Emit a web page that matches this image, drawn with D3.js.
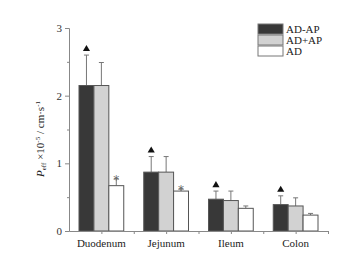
<!DOCTYPE html>
<html>
<head>
<meta charset="utf-8">
<script src="https://cdn.jsdelivr.net/npm/d3@7"></script>
<style>
  body { margin: 0; background: #fff; }
  text { font-family: "Liberation Serif", "DejaVu Serif", serif; fill: #222; }
</style>
</head>
<body>
<div id="chart"></div>
<script>
// data
let segments = ["Duodenum", "Jejunum", "Ileum", "Colon"];
let groups = ["AD-AP", "AD+AP", "AD"];
let meanADminusAP = [2.15, 0.87, 0.47, 0.39];
let sdADminusAP   = [0.45, 0.23, 0.12, 0.13];
let meanADplusAP  = [2.15, 0.87, 0.45, 0.37];
let sdADplusAP    = [0.34, 0.23, 0.14, 0.12];
let meanAD        = [0.67, 0.59, 0.335, 0.235];
let sdAD          = [0.10, 0.03, 0.035, 0.025];
let triangleOn = ["Duodenum", "Jejunum", "Ileum", "Colon"];   // marks on AD-AP
let starOn = ["Duodenum", "Jejunum"];                           // marks on AD
let yTicks = [0, 1, 2, 3];

let fills = {"AD-AP": "#383838", "AD+AP": "#d2d2d2", "AD": "#ffffff"};

let W = 360, H = 253;
let margin = {top: 28, right: 32, bottom: 22, left: 69};
let width = W - margin.left - margin.right;
let height = H - margin.top - margin.bottom;

let svg = d3.select("#chart").append("svg")
    .attr("width", W)
    .attr("height", H);

let g = svg.append("g")
    .attr("transform", "translate(" + margin.left + "," + margin.top + ")");

// scales
let x = d3.scaleBand().domain(segments).range([0, width]).paddingInner(0).paddingOuter(0);
let xInner = d3.scaleBand().domain(groups).range([10, x.bandwidth() - 10]);
let y = d3.scaleLinear().domain([0, 3]).range([height, 0]);

// build rows
let rows = [];
segments.forEach((s, i) => {
    rows.push({seg: s, grp: "AD-AP", mean: meanADminusAP[i], sd: sdADminusAP[i]});
    rows.push({seg: s, grp: "AD+AP", mean: meanADplusAP[i], sd: sdADplusAP[i]});
    rows.push({seg: s, grp: "AD", mean: meanAD[i], sd: sdAD[i]});
});
let cx = d => x(d.seg) + xInner(d.grp) + xInner.bandwidth() / 2;

// error bars (upper only)
let err = g.append("g").attr("class", "err");
err.selectAll("line.v").data(rows).enter().append("line")
    .attr("x1", cx).attr("x2", cx)
    .attr("y1", d => y(d.mean))
    .attr("y2", d => y(d.mean + d.sd))
    .attr("stroke", "#777")
    .attr("stroke-width", 1);
err.selectAll("line.cap").data(rows).enter().append("line")
    .attr("x1", d => cx(d) - 2.5)
    .attr("x2", d => cx(d) + 2.5)
    .attr("y1", d => y(d.mean + d.sd))
    .attr("y2", d => y(d.mean + d.sd))
    .attr("stroke", "#777")
    .attr("stroke-width", 1);

// bars
g.append("g").selectAll("rect").data(rows).enter().append("rect")
    .attr("x", d => x(d.seg) + xInner(d.grp))
    .attr("y", d => y(d.mean))
    .attr("width", xInner.bandwidth())
    .attr("height", d => y(0) - y(d.mean))
    .attr("fill", d => fills[d.grp])
    .attr("stroke", "#555")
    .attr("stroke-width", 1);

// significance marks
let tri = d3.symbol().type(d3.symbolTriangle).size(22);
g.append("g").selectAll("path").data(rows.filter(d => d.grp === "AD-AP" && triangleOn.includes(d.seg)))
    .enter().append("path")
    .attr("d", tri)
    .attr("transform", d => "translate(" + cx(d) + "," + (y(d.mean + d.sd) - 6) + ")")
    .attr("fill", "#111");

g.append("g").selectAll("text").data(rows.filter(d => d.grp === "AD" && starOn.includes(d.seg)))
    .enter().append("text")
    .attr("x", cx)
    .attr("y", d => y(d.mean + d.sd) + 5)
    .attr("text-anchor", "middle")
    .style("font-family", "DejaVu Sans, sans-serif")
    .style("font-size", "12px")
    .style("fill", "#666")
    .text("*");

// axes
let yAxis = g.append("g")
    .call(d3.axisLeft(y).tickValues(yTicks).tickFormat(d3.format("d")).tickSize(4));
let yMinor = g.append("g")
    .call(d3.axisLeft(y).tickValues([0.5, 1.5, 2.5]).tickFormat("").tickSize(2));
yMinor.select(".domain").remove();

let xTickVals = [];
segments.forEach(s => { xTickVals.push(x(s) + x.bandwidth() / 2); xTickVals.push(x(s) + x.bandwidth()); });
let xLin = d3.scaleLinear().domain([0, width]).range([0, width]);
let xAxis = g.append("g")
    .attr("transform", "translate(0," + height + ")")
    .call(d3.axisBottom(xLin).tickValues(xTickVals).tickFormat("").tickSize(3).tickSizeOuter(0));

g.append("g")
    .attr("transform", "translate(0," + height + ")")
    .selectAll("text").data(segments).enter().append("text")
    .attr("x", d => x(d) + x.bandwidth() / 2)
    .attr("y", 16)
    .attr("text-anchor", "middle")
    .style("font-size", "11px")
    .text(d => d);

[yAxis, yMinor, xAxis].forEach(a => {
    a.selectAll(".domain").attr("stroke", "#888");
    a.selectAll(".tick line").attr("stroke", "#888");
});
yAxis.selectAll(".tick text")
    .attr("x", -7)
    .style("font-family", "Liberation Serif, serif")
    .style("font-size", "11px")
    .style("fill", "#333");

// y label
let yl = svg.append("text")
    .attr("transform", "translate(44," + 139 + ") rotate(-90)")
    .attr("text-anchor", "middle")
    .style("font-size", "11px");
yl.append("tspan").style("font-style", "italic").text("P");
yl.append("tspan").attr("dy", 2).style("font-size", "7px").text("eff");
yl.append("tspan").attr("dy", -2).text(" ×10");
yl.append("tspan").attr("dy", -4).style("font-size", "7px").text("-5");
yl.append("tspan").attr("dy", 4).text(" / cm·s");
yl.append("tspan").attr("dy", -4).style("font-size", "7px").text("-1");

// legend
let legend = svg.append("g").attr("transform", "translate(258,24)");
groups.forEach((grp, i) => {
    let row = legend.append("g").attr("transform", "translate(0," + i * 11 + ")");
    row.append("rect")
        .attr("width", 25).attr("height", 10)
        .attr("fill", fills[grp])
        .attr("stroke", "#777");
    row.append("text")
        .attr("x", 28).attr("y", 9)
        .style("font-size", "11px")
        .text(grp);
});
</script>
</body>
</html>
